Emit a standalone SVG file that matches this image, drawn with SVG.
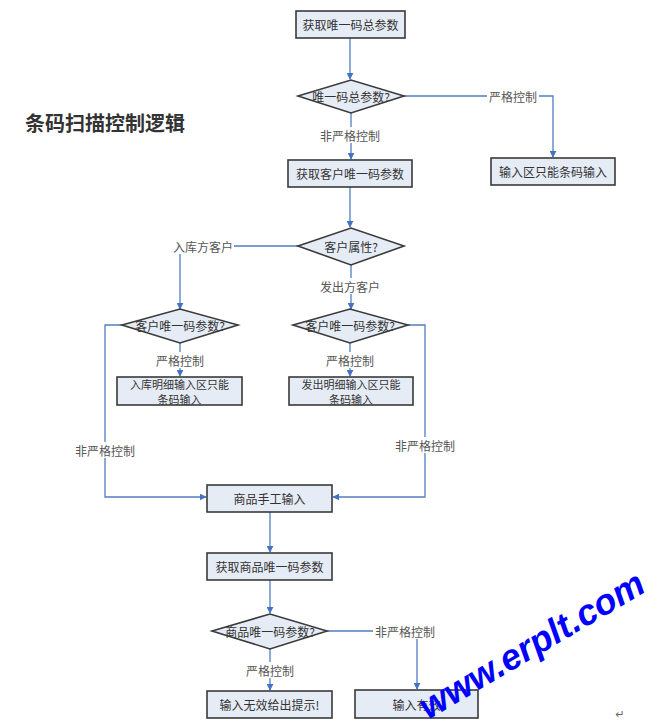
<svg xmlns="http://www.w3.org/2000/svg" width="656" height="728" viewBox="0 0 656 728">
<defs>
<style>
.box{fill:#e6ecf6;stroke:#3a3a3a;stroke-width:1.6}
.dia{fill:#e6ecf6;stroke:#3a3a3a;stroke-width:1.6}
.t{font-family:"Noto Sans CJK SC","Noto Sans",sans-serif;font-size:12px;fill:#333;text-anchor:middle;dominant-baseline:central}
.t2{font-family:"Noto Sans CJK SC","Noto Sans",sans-serif;font-size:11px;fill:#333;text-anchor:middle;dominant-baseline:central}
.lb{font-family:"Noto Sans CJK SC","Noto Sans",sans-serif;font-size:12px;fill:#555;text-anchor:middle;dominant-baseline:central}
.ln{fill:none;stroke:#4f7fc0;stroke-width:1.3}
.bg{fill:#fff}
</style>
<marker id="ah" viewBox="0 0 10 10" refX="9" refY="5" markerWidth="7" markerHeight="7" orient="auto" markerUnits="userSpaceOnUse">
<path d="M0,0 L10,5 L0,10 z" fill="#4472c4"/>
</marker>
</defs>
<rect width="656" height="728" fill="#fff"/>
<text x="25" y="122" font-family="'Noto Sans CJK SC',sans-serif" font-size="20" font-weight="bold" fill="#333" dominant-baseline="central">条码扫描控制逻辑</text>

<g id="connectors">
<path class="ln" d="M350,38 V79" marker-end="url(#ah)"/>
<path class="ln" d="M404,96 H553 V157" marker-end="url(#ah)"/>
<path class="ln" d="M351,113 V159" marker-end="url(#ah)"/>
<path class="ln" d="M350,187 V227" marker-end="url(#ah)"/>
<path class="ln" d="M298,246 H180 V309" marker-end="url(#ah)"/>
<path class="ln" d="M351,265 V309" marker-end="url(#ah)"/>
<path class="ln" d="M180,343 V376" marker-end="url(#ah)"/>
<path class="ln" d="M350,343 V376" marker-end="url(#ah)"/>
<path class="ln" d="M122,325 H105 V497 H206" marker-end="url(#ah)"/>
<path class="ln" d="M408,325 H425 V497 H333" marker-end="url(#ah)"/>
<path class="ln" d="M270,512 V552" marker-end="url(#ah)"/>
<path class="ln" d="M270,580 V613" marker-end="url(#ah)"/>
<path class="ln" d="M327,631 H417 V689" marker-end="url(#ah)"/>
<path class="ln" d="M270,649 V690" marker-end="url(#ah)"/>
<rect class="bg" x="487" y="88" width="52" height="16"/>
<text class="lb" x="513" y="96">严格控制</text>
<rect class="bg" x="318" y="127" width="64" height="16"/>
<text class="lb" x="350" y="135">非严格控制</text>
<rect class="bg" x="172" y="238" width="62" height="16"/>
<text class="lb" x="203" y="246">入库方客户</text>
<rect class="bg" x="319" y="278" width="62" height="16"/>
<text class="lb" x="350" y="286">发出方客户</text>
<rect class="bg" x="154" y="352" width="52" height="16"/>
<text class="lb" x="180" y="360">严格控制</text>
<rect class="bg" x="324" y="352" width="52" height="16"/>
<text class="lb" x="350" y="360">严格控制</text>
<rect class="bg" x="73" y="442" width="64" height="16"/>
<text class="lb" x="105" y="450">非严格控制</text>
<rect class="bg" x="393" y="437" width="64" height="16"/>
<text class="lb" x="425" y="445">非严格控制</text>
<rect class="bg" x="373" y="623" width="64" height="16"/>
<text class="lb" x="405" y="631">非严格控制</text>
<rect class="bg" x="244" y="662" width="52" height="16"/>
<text class="lb" x="270" y="670">严格控制</text>
</g>

<g id="n1"><rect class="box" x="296" y="11" width="109" height="27"/><text class="t" x="350.5" y="24.5">获取唯一码总参数</text></g>
<g id="d1"><polygon class="dia" points="298,96 351,80 404,96 351,113"/><text class="t" x="351" y="96">唯一码总参数?</text></g>
<g id="n2"><rect class="box" x="491" y="158" width="124" height="27"/><text class="t" x="553" y="171.5">输入区只能条码输入</text></g>
<g id="n3"><rect class="box" x="288" y="160" width="124" height="27"/><text class="t" x="350" y="173.5">获取客户唯一码参数</text></g>
<g id="d2"><polygon class="dia" points="298,246 351,228 404,246 351,265"/><text class="t" x="351" y="246">客户属性?</text></g>
<g id="d3"><polygon class="dia" points="122,325 180,309 238,325 180,343"/><text class="t" x="180" y="325">客户唯一码参数?</text></g>
<g id="d4"><polygon class="dia" points="293,325 350,309 408,325 350,343"/><text class="t" x="350" y="325">客户唯一码参数?</text></g>
<g id="n4"><rect class="box" x="117" y="377" width="125" height="28"/><text class="t2" x="179.5" y="384">入库明细输入区只能</text><text class="t2" x="179.5" y="398.5">条码输入</text></g>
<g id="n5"><rect class="box" x="289" y="377" width="124" height="28"/><text class="t2" x="351" y="384">发出明细输入区只能</text><text class="t2" x="351" y="398.5">条码输入</text></g>
<g id="n6"><rect class="box" x="207" y="485" width="125" height="27"/><text class="t" x="269.5" y="498.5">商品手工输入</text></g>
<g id="n7"><rect class="box" x="207" y="553" width="125" height="27"/><text class="t" x="269.5" y="566.5">获取商品唯一码参数</text></g>
<g id="d5"><polygon class="dia" points="212,631 270,614 327,631 270,649"/><text class="t" x="270" y="631">商品唯一码参数?</text></g>
<g id="n8"><rect class="box" x="207" y="691" width="125" height="27"/><text class="t" x="269.5" y="704.5">输入无效给出提示!</text></g>
<g id="n9"><rect class="box" x="355" y="690" width="123" height="28"/><text class="t" x="416.5" y="704">输入有效</text></g>

<text x="620" y="714" font-family="'DejaVu Sans',sans-serif" font-size="11" fill="#666" text-anchor="middle" dominant-baseline="central">↵</text>
<text transform="translate(428,720) rotate(-30.5)" font-family="'Liberation Sans',Arial,sans-serif" font-size="36" font-weight="bold" font-style="italic" fill="#0000ff">www.erplt.com</text>
</svg>
